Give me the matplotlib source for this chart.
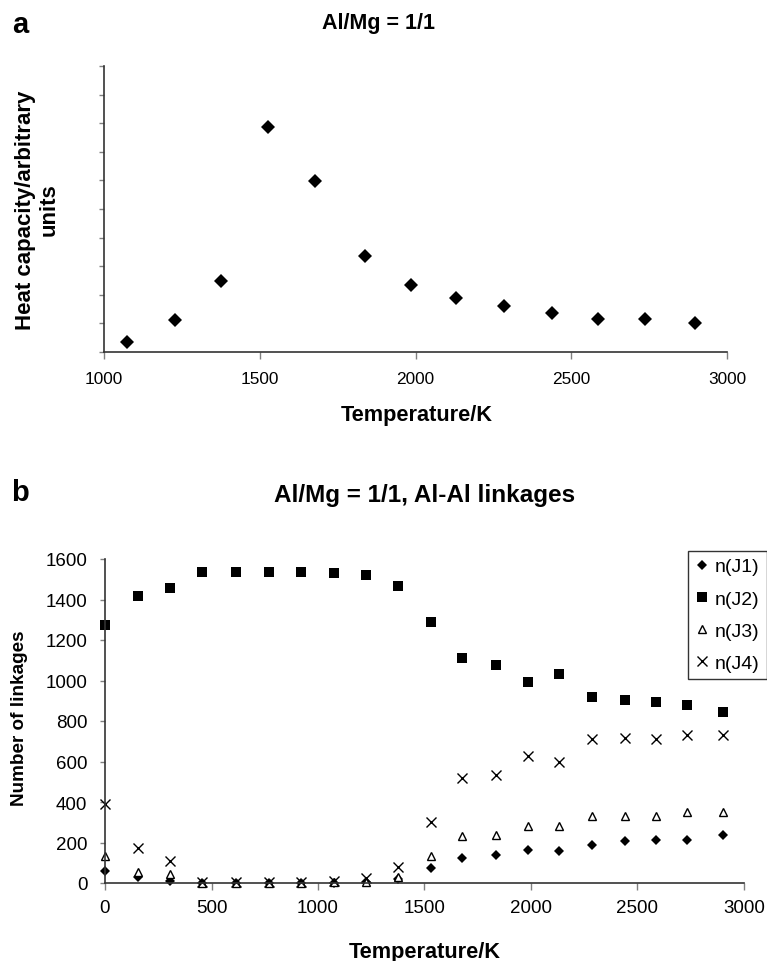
import matplotlib
matplotlib.use("Agg")
import matplotlib.pyplot as plt

plt.rcParams['font.family'] = ['Liberation Sans', 'DejaVu Sans']

# panel a: heat capacity
temp_a = [1073, 1227, 1377, 1526, 1678, 1837, 1986, 2131, 2284, 2438, 2587, 2737, 2898]
cp_a = [0.36, 1.11, 2.47, 7.85, 5.97, 3.37, 2.35, 1.88, 1.60, 1.35, 1.14, 1.14, 1.00]

# panel b: Al-Al linkages
temp_b = [0, 153, 305, 457, 614, 770, 919, 1074, 1224, 1377,
          1530, 1674, 1835, 1987, 2133, 2285, 2441, 2587, 2734, 2903]
nJ1 = [61, 28, 8, 0, 0, 0, 0, 2, 5, 20, 72, 123, 140, 165, 156, 189, 206, 212, 212, 237]
nJ2 = [1274, 1416, 1455, 1537, 1537, 1537, 1537, 1529, 1522, 1465,
       1288, 1111, 1078, 991, 1031, 920, 904, 892, 879, 846]
nJ3 = [135, 53, 44, 0, 0, 0, 0, 6, 3, 28, 135, 231, 237, 283, 283, 332, 332, 332, 349, 349]
nJ4 = [390, 174, 110, 3, 3, 3, 3, 10, 23, 77, 303, 519, 533, 629, 599, 711, 716, 710, 732, 732]
labels_b = ['n(J1)', 'n(J2)', 'n(J3)', 'n(J4)']

W, H = 767, 962
fig = plt.figure(figsize=(W / 100, H / 100), dpi=100)


def style_axes(ax, fs):
    for s in ['top', 'right']:
        ax.spines[s].set_visible(False)
    for s in ['left', 'bottom']:
        ax.spines[s].set_color('#333333')
        ax.spines[s].set_linewidth(1.2)
    ax.tick_params(axis='x', direction='out', length=5, width=1, color='#808080',
                   labelsize=fs, pad=6.5)
    ax.tick_params(axis='y', direction='out', length=3.6, width=1, color='#808080',
                   labelsize=fs, pad=9)


# ---- panel a ----
ax1 = fig.add_axes([104 / W, 1 - 353 / H, 623 / W, 286 / H])
ax1.plot(temp_a, cp_a, linestyle='none', marker='D', ms=6.9, color='black',
         mew=0, clip_on=False)
ax1.set_xlim(1000, 3000)
ax1.set_ylim(0, 10)
ax1.set_xticks([1000, 1500, 2000, 2500, 3000])
ax1.set_yticks(range(0, 11))
ax1.set_yticklabels([])
style_axes(ax1, 12.4)
ax1.tick_params(axis='x', pad=9)

fig.text(20 / W, 1 - 25 / H, 'a', fontsize=21, fontweight='bold', ha='center', va='center')
fig.text(378 / W, 1 - 24 / H, 'Al/Mg = 1/1', fontsize=15.5, fontweight='bold',
         ha='center', va='center')
fig.text(37 / W, 1 - 210 / H, 'Heat capacity/arbitrary\nunits', fontsize=16,
         fontweight='bold', rotation=90, ha='center', va='center',
         multialignment='center', linespacing=1.15)
fig.text(417 / W, 1 - 416 / H, 'Temperature/K', fontsize=15.7, fontweight='bold',
         ha='center', va='center')

# ---- panel b ----
ax2 = fig.add_axes([105 / W, 1 - 884 / H, 639 / W, 324 / H])
ax2.plot(temp_b, nJ1, linestyle='none', marker='D', ms=4.9, color='black', mew=0,
         clip_on=False, label=labels_b[0])
ax2.plot(temp_b, nJ2, linestyle='none', marker='s', ms=7.2, color='black', mew=0,
         clip_on=False, label=labels_b[1])
ax2.plot(temp_b, nJ3, linestyle='none', marker='^', ms=5.4, mfc='white', mec='black',
         mew=1.0, clip_on=False, label=labels_b[2])
ax2.plot(temp_b, nJ4, linestyle='none', marker='x', ms=7.2, color='black', mew=1.0,
         clip_on=False, label=labels_b[3])
ax2.set_xlim(0, 3000)
ax2.set_ylim(0, 1600)
ax2.set_xticks(range(0, 3001, 500))
ax2.set_yticks(range(0, 1601, 200))
style_axes(ax2, 13.5)

leg = fig.legend(loc='upper left', bbox_to_anchor=(688 / W, 1 - 552 / H),
                 fontsize=14, frameon=True, fancybox=False, borderaxespad=0,
                 borderpad=0.35, labelspacing=0.75, handlelength=0.71,
                 handletextpad=0.33, markerscale=1.0)
leg.get_frame().set_edgecolor('black')
leg.get_frame().set_linewidth(1.0)

fig.text(20 / W, 1 - 493 / H, 'b', fontsize=21, fontweight='bold', ha='center', va='center')
fig.text(425 / W, 1 - 496 / H, 'Al/Mg = 1/1, Al-Al linkages', fontsize=17.5,
         fontweight='bold', ha='center', va='center')
fig.text(20 / W, 1 - 718 / H, 'Number of linkages', fontsize=13.6, fontweight='bold',
         rotation=90, ha='center', va='center')
fig.text(425 / W, 1 - 953 / H, 'Temperature/K', fontsize=15.7, fontweight='bold',
         ha='center', va='center')

fig.savefig('out.png', dpi=100)
